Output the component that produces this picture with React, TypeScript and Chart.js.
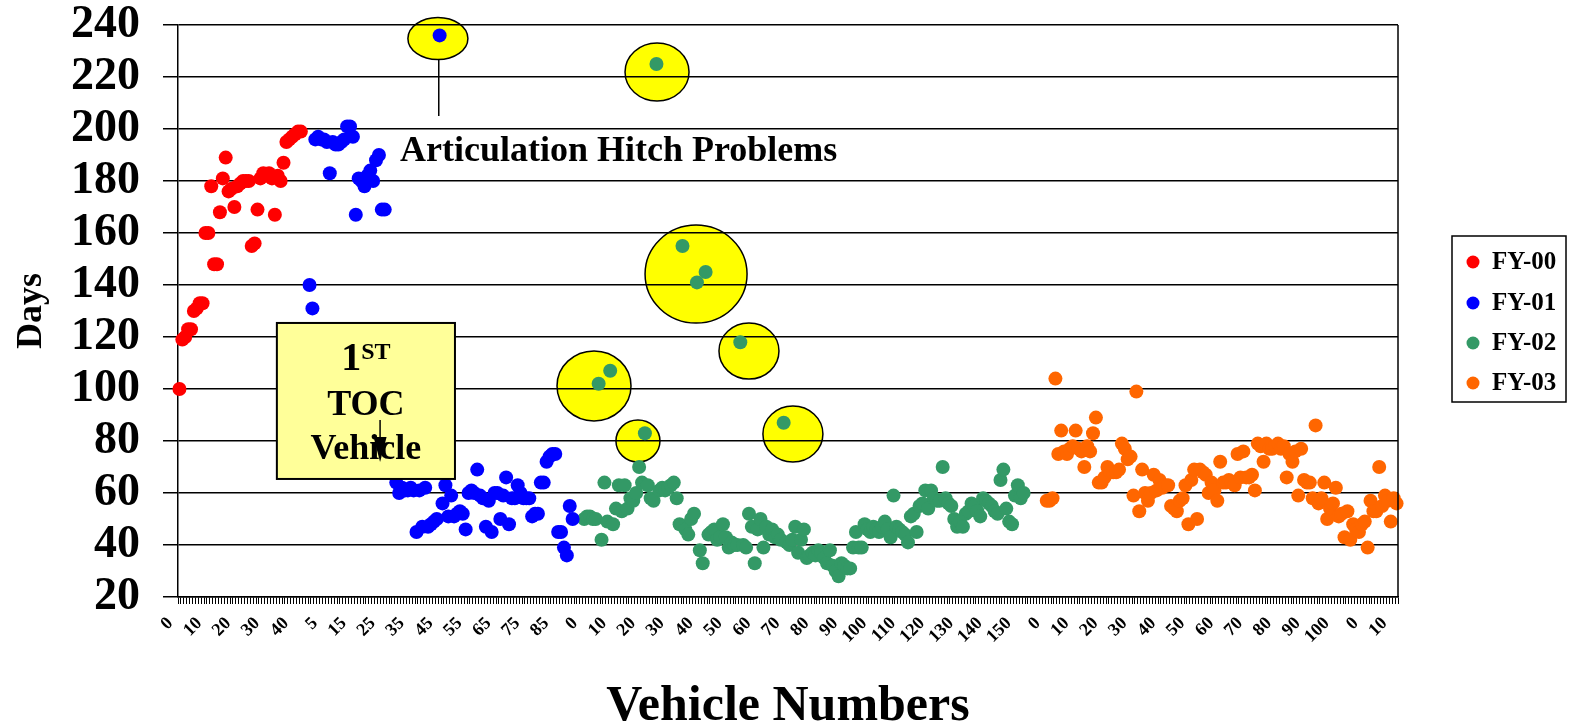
import React, { useEffect, useRef } from 'react';
import { Chart, registerables } from 'chart.js';

Chart.register(...registerables);

const FONT = "'Liberation Serif', 'Times New Roman', serif";

const seriesNames = ['FY-00', 'FY-01', 'FY-02', 'FY-03'];
const seriesColors = ['#FF0000', '#0000FF', '#339966', '#FF6600'];

const fy00Days = [
  100, 119, 120, 123, 123, 130, 131, 133, 133, 160, 160, 178, 148, 148, 168, 181, 189, 176, 177, 170,
  178, 179, 180, 180, 180, 155, 156, 169, 181, 183, 182, 183, 181, 167, 182, 180, 187, 195, 196, 197,
  198, 199, 199, null, null,
];

const fy01Days = [
  140, 131, 196, 197, 196, 196, 195, 183, 195, 194, 194, 195, 196, 201, 201, 197, 167, 181, 180, 178,
  182, 184, 180, 188, 190, 169, 169, 72, 70, 68, 64, 60, 62, 61, 61, 62, 61, 45, 61, 47,
  62, 47, 48, 49, 50, 236, 56, 63, 51, 59, 51, 52, 53, 52, 46, 60, 61, 60, 69, 59,
  58, 47, 57, 45, 60, 60, 50, 59, 66, 48, 58, 58, 63, 60, 58, 58, 58, 51, 52, 52,
  64, 64, 72, 74, 75, 75, 45, 45, 39, 36, 55, 50, null, null, null,
];

const fy02Days = [
  50, 51, 51, 50, 50, 102, 42, 64, 49, 107, 48, 54, 63, 53, 63, 54, 58, 57, 60, 70,
  64, 83, 63, 58, 57, 225, 61, 62, 61, 62, 63, 64, 58, 48, 155, 46, 44, 50, 52, 141,
  38, 33, 145, 44, 45, 46, 42, 43, 48, 43, 39, 41, 40, 40, 118, 40, 39, 52, 47, 33,
  46, 50, 39, 47, 44, 46, 43, 44, 42, 87, 41, 40, 42, 47, 37, 42, 46, 35, 36, 37,
  36, 38, 37, 35, 33, 38, 32, 30, 28, 33, 32, 31, 31, 39, 45, 39, 39, 48, 46, 45,
  47, 46, 45, 47, 49, 46, 43, 59, 47, 46, 45, 44, 41, 51, 52, 45, 55, 56, 61, 54,
  61, 58, 57, 57, 70, 58, 56, 55, 50, 47, 49, 47, 52, 53, 56, 55, 53, 51, 58, 57,
  56, 55, 53, 52, 65, 69, 54, 49, 48, 59, 63, 58, 60, null, null, null, null, null, null, null,
];

const fy03Days = [
  57, 57, 58, 104, 75, 84, 76, 75, 77, 78, 84, 77, 76, 70, 78, 76, 83, 89, 64, 64,
  66, 70, 68, 68, 68, 69, 79, 77, 73, 74, 59, 99, 53, 69, 60, 57, 60, 67, 61, 65,
  62, 63, 63, 55, 54, 53, 57, 58, 63, 48, 65, 69, 50, 69, 68, 67, 60, 64, 61, 57,
  72, 64, 64, 65, 64, 63, 75, 66, 76, 66, 66, 67, 61, 79, 78, 72, 79, 77, 77, 78,
  79, 77, 78, 66, 75, 72, 76, 59, 77, 65, 64, 64, 58, 86, 56, 58, 64, 50, 54, 56,
  62, 51, 52, 43, 53, 42, 48, 46, 45, 48, 49, 39, 57, 53, 53, 70, 55, 59, 57, 49,
  58, 56,
];

// vehicle-number label blocks (numbering restarts at 0 in each block)
const labelBlockSizes = [45, 95, 160, 110, 12];
const seriesStartIndex = [0, 45, 140, 300];
const yMin = 20;
const yMax = 240;
const yStep = 20;

const categoryLabels: string[] = labelBlockSizes.flatMap((n) =>
  Array.from({ length: n }, (_, i) => String(i))
);

// annotation callouts, positioned in data units (category index, days)
const highlightEllipses = [
  { cat: 89.4, val: 234.8, rx: 30, ry: 21 },
  { cat: 165.2, val: 221.9, rx: 32, ry: 29 },
  { cat: 178.7, val: 144.2, rx: 51, ry: 49 },
  { cat: 143.4, val: 101.2, rx: 37, ry: 35 },
  { cat: 158.6, val: 80, rx: 22, ry: 21 },
  { cat: 197, val: 114.6, rx: 30, ry: 28 },
  { cat: 212.2, val: 82.7, rx: 30, ry: 28 },
];
const hitchCallout = { cat: 89.7, fromVal: 226.7, toVal: 205, textCat: 76.3, textVal: 187.7, text: 'Articulation Hitch Problems' };
const tocBox = { cat0: 33.7, cat1: 95.3, val0: 125.4, val1: 65.4, textCat: 64.5, arrowCat: 69.4, arrowFrom: 88.1, arrowBase: 78.5, arrowTip: 71.9 };

const overlayPlugin = {
  id: 'overlay',
  beforeDraw(chart: any) {
    const { ctx, scales } = chart;
    const x = scales.x;
    const y = scales.y;
    ctx.save();
    for (const e of highlightEllipses) {
      ctx.beginPath();
      ctx.ellipse(x.getPixelForValue(e.cat), y.getPixelForValue(e.val), e.rx, e.ry, 0, 0, Math.PI * 2);
      ctx.fillStyle = '#FFFF00';
      ctx.fill();
      ctx.lineWidth = 1.5;
      ctx.strokeStyle = '#000000';
      ctx.stroke();
    }
    ctx.restore();
  },
  afterDraw(chart: any) {
    const { ctx, scales, chartArea } = chart;
    const x = scales.x;
    const y = scales.y;
    ctx.save();
    // right border of plot
    ctx.strokeStyle = '#000000';
    ctx.lineWidth = 1.5;
    ctx.beginPath();
    ctx.moveTo(chartArea.right, chartArea.top);
    ctx.lineTo(chartArea.right, chartArea.bottom);
    ctx.stroke();

    // hitch callout line + text
    const hx = x.getPixelForValue(hitchCallout.cat);
    ctx.beginPath();
    ctx.moveTo(hx, y.getPixelForValue(hitchCallout.fromVal));
    ctx.lineTo(hx, y.getPixelForValue(hitchCallout.toVal));
    ctx.stroke();
    ctx.fillStyle = '#000000';
    ctx.font = `bold 36px ${FONT}`;
    ctx.textAlign = 'left';
    ctx.textBaseline = 'alphabetic';
    ctx.fillText(hitchCallout.text, x.getPixelForValue(hitchCallout.textCat), y.getPixelForValue(hitchCallout.textVal));

    // 1st TOC vehicle box
    const bx0 = x.getPixelForValue(tocBox.cat0);
    const bx1 = x.getPixelForValue(tocBox.cat1);
    const by0 = y.getPixelForValue(tocBox.val0);
    const by1 = y.getPixelForValue(tocBox.val1);
    ctx.fillStyle = '#FFFF99';
    ctx.fillRect(bx0, by0, bx1 - bx0, by1 - by0);
    ctx.lineWidth = 2;
    ctx.strokeRect(bx0, by0, bx1 - bx0, by1 - by0);
    const cx = x.getPixelForValue(tocBox.textCat);
    ctx.fillStyle = '#000000';
    ctx.font = `bold 40px ${FONT}`;
    const w1 = ctx.measureText('1').width;
    ctx.font = `bold 24px ${FONT}`;
    const wst = ctx.measureText('ST').width;
    const sx = cx - (w1 + wst) / 2;
    ctx.textAlign = 'left';
    ctx.font = `bold 40px ${FONT}`;
    ctx.fillText('1', sx, by0 + 47);
    ctx.font = `bold 24px ${FONT}`;
    ctx.fillText('ST', sx + w1, by0 + 36);
    ctx.textAlign = 'center';
    ctx.font = `bold 36px ${FONT}`;
    ctx.fillText('TOC', cx, by0 + 92);
    ctx.fillText('Vehicle', cx, by0 + 136);
    // arrow
    const ax = x.getPixelForValue(tocBox.arrowCat);
    const ayFrom = y.getPixelForValue(tocBox.arrowFrom);
    const ayBase = y.getPixelForValue(tocBox.arrowBase);
    const ayTip = y.getPixelForValue(tocBox.arrowTip);
    ctx.lineWidth = 1.5;
    ctx.beginPath();
    ctx.moveTo(ax, ayFrom);
    ctx.lineTo(ax, ayBase);
    ctx.stroke();
    ctx.beginPath();
    ctx.moveTo(ax - 6.5, ayBase - 8);
    ctx.lineTo(ax + 6.5, ayBase - 8);
    ctx.lineTo(ax, ayTip);
    ctx.closePath();
    ctx.fill();

    // legend
    const lx = 1452;
    const ly = 236;
    const lw = 114;
    const lh = 166;
    ctx.fillStyle = '#FFFFFF';
    ctx.fillRect(lx, ly, lw, lh);
    ctx.lineWidth = 1.5;
    ctx.strokeStyle = '#000000';
    ctx.strokeRect(lx, ly, lw, lh);
    const rowY = [262, 303, 343, 383];
    ctx.font = `bold 25px ${FONT}`;
    ctx.textAlign = 'left';
    ctx.textBaseline = 'middle';
    seriesNames.forEach((name, i) => {
      ctx.fillStyle = seriesColors[i];
      ctx.beginPath();
      ctx.arc(1473, rowY[i], 6.5, 0, Math.PI * 2);
      ctx.fill();
      ctx.fillStyle = '#000000';
      ctx.fillText(name, 1492, rowY[i] + 1);
    });
    ctx.restore();
  },
};

export default function App() {
  const canvasRef = useRef<HTMLCanvasElement | null>(null);

  useEffect(() => {
    const canvas = canvasRef.current;
    if (!canvas) return;
    const allSeries = [fy00Days, fy01Days, fy02Days, fy03Days];
    const datasets = allSeries.map((vals, s) => {
      const data: (number | null)[] = new Array(categoryLabels.length).fill(null);
      vals.forEach((v, i) => {
        data[seriesStartIndex[s] + i] = v;
      });
      return {
        label: seriesNames[s],
        data,
        showLine: false,
        pointRadius: 7,
        pointHoverRadius: 7,
        pointBorderWidth: 0,
        pointBackgroundColor: seriesColors[s],
        borderColor: seriesColors[s],
        backgroundColor: seriesColors[s],
      };
    });

    const chart = new Chart(canvas, {
      type: 'line',
      data: { labels: categoryLabels, datasets },
      plugins: [overlayPlugin],
      options: {
        responsive: false,
        animation: false,
        events: [],
        layout: { padding: { left: 0, right: 173, top: 25, bottom: 0 } },
        plugins: { legend: { display: false }, tooltip: { enabled: false }, title: { display: false } },
        scales: {
          x: {
            type: 'category',
            offset: true,
            afterFit: (scale: any) => {
              scale.height = 124;
              scale.paddingTop = 0;
              scale.paddingBottom = 0;
            },
            grid: {
              display: true,
              drawOnChartArea: false,
              drawTicks: true,
              tickLength: 7,
              color: '#000000',
              lineWidth: 1,
              offset: true,
            },
            border: { display: true, color: '#000000', width: 1.5 },
            ticks: {
              autoSkip: false,
              minRotation: 45,
              maxRotation: 45,
              color: '#000000',
              padding: 9,
              labelOffset: -9,
              font: { family: FONT, size: 18, weight: 'bold' },
              callback: (_v: any, idx: number) => (idx % 10 === 0 ? categoryLabels[idx] : ''),
            },
            title: {
              display: true,
              text: 'Vehicle Numbers',
              color: '#000000',
              font: { family: FONT, size: 50, weight: 'bold', lineHeight: 0.56 },
              padding: 0,
            },
          },
          y: {
            min: yMin,
            max: yMax,
            afterFit: (scale: any) => {
              scale.width = 178;
              scale.paddingTop = 0;
              scale.paddingBottom = 0;
            },
            grid: { color: '#000000', lineWidth: 1.5, tickLength: 15, drawTicks: true },
            border: { display: true, color: '#000000', width: 1.5 },
            ticks: {
              stepSize: yStep,
              color: '#000000',
              padding: 23,
              font: { family: FONT, size: 46, weight: 'bold', lineHeight: 1 },
            },
            title: {
              display: true,
              text: 'Days',
              color: '#000000',
              font: { family: FONT, size: 36, weight: 'bold', lineHeight: 1 },
              padding: { top: 14, bottom: 0 },
            },
          },
        },
      },
    } as any);
    return () => chart.destroy();
  }, []);

  return (
    <div style={{ position: 'fixed', left: 0, top: 0, width: 1571, height: 721, background: '#FFFFFF' }}>
      <canvas ref={canvasRef} width={1571} height={721} style={{ display: 'block', width: 1571, height: 721 }} />
    </div>
  );
}
